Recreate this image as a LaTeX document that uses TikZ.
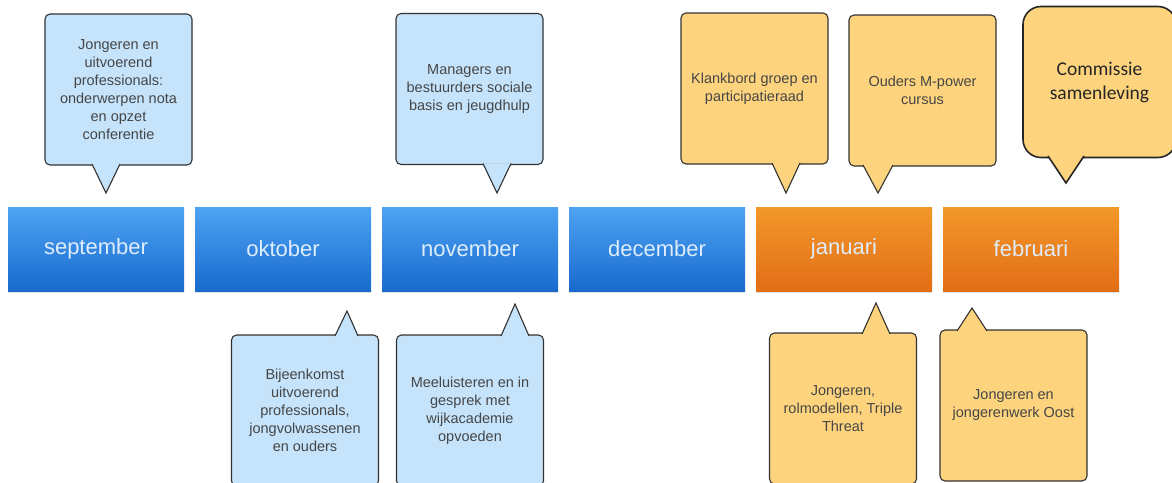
\documentclass[tikz,border=0pt]{standalone}
\usepackage{fontspec}
\setmainfont{Liberation Sans}
\newfontfamily\calibri{Carlito}
\usetikzlibrary{positioning,calc,shadows}
\definecolor{bluetop}{RGB}{78,163,243}
\definecolor{bluebot}{RGB}{24,106,205}
\definecolor{ortop}{RGB}{242,152,42}
\definecolor{orbot}{RGB}{226,110,22}
\definecolor{bluefill}{RGB}{197,228,252}
\definecolor{orfill}{RGB}{253,212,125}
\definecolor{linecol}{RGB}{50,50,50}
\definecolor{textcol}{RGB}{70,70,70}
\definecolor{monthtext}{RGB}{222,237,252}
\begin{document}
\begin{tikzpicture}[x=1pt,y=-1pt,node distance=10.6pt,
      month/.style={rectangle,minimum width=176pt,minimum height=84pt,inner sep=0pt,text=monthtext,font=\fontsize{22}{26}\selectfont,drop shadow={opacity=0.25,shadow xshift=0pt,shadow yshift=-1.5pt}},
      bluemonth/.style={month,top color=bluetop,bottom color=bluebot},
      orangemonth/.style={month,top color=ortop,bottom color=orbot},
      bubble/.style={rectangle,rounded corners=5pt,draw=linecol,line width=1.1pt,minimum width=147pt,minimum height=151pt,inner sep=0pt,outer sep=0pt,align=center,text=textcol,font=\fontsize{14.5}{18}\selectfont},
      bluebubble/.style={bubble,fill=bluefill},
      orangebubble/.style={bubble,fill=orfill},
      bigbubble/.style={bubble,fill=orfill,rounded corners=18pt,line width=1.6pt,draw=black!85,minimum width=153pt,text=black!85,font=\calibri\fontsize{19.5}{24}\selectfont},
      ptr/.style={draw=linecol,line width=1.1pt,line join=miter}
      ]
      \useasboundingbox (0,0) rectangle (1172,482);
      \node (sep) [bluemonth] at (96,249) {september};
      \node (okt) [bluemonth, right=of sep] {oktober};
      \node (nov) [bluemonth, right=of okt] {november};
      \node (dec) [bluemonth, right=of nov] {december};
      \node (jan) [orangemonth, right=of dec] {januari};
      \node (feb) [orangemonth, right=of jan] {februari};
      \node (c1) [bluebubble] at (118.5,89.5) {Jongeren en\\uitvoerend\\professionals:\\onderwerpen nota\\en opzet\\conferentie};
      \node (c2) [bluebubble] at (469.5,89) {Managers en\\bestuurders sociale\\basis en jeugdhulp};
      \node (c3) [orangebubble] at (754.5,88.5) {Klankbord groep en\\participatieraad};
      \node (c4) [orangebubble] at (922.5,90.5) {Ouders M-power\\cursus};
      \node (c5) [bigbubble] at (1099.5,82) {Commissie\\samenleving};
      \node (b1) [bluebubble] at (305,410.5) {Bijeenkomst\\uitvoerend\\professionals,\\jongvolwassenen\\en ouders};
      \node (b2) [bluebubble] at (470,410.5) {Meeluisteren en in\\gesprek met\\wijkacademie\\opvoeden};
      \node (b3) [orangebubble] at (843,408.5) {Jongeren,\\rolmodellen, Triple\\Threat};
      \node (b4) [orangebubble] at (1013.5,405.5) {Jongeren en\\jongerenwerk Oost};
      \coordinate (t1) at (106,193);
      \coordinate (t2) at (497,193);
      \coordinate (t3) at (786,193);
      \coordinate (t4) at (878,193);
      \coordinate (t5) at (1066,183);
      \coordinate (u1) at (347,311);
      \coordinate (u2) at (515,304);
      \coordinate (u3) at (876,303);
      \coordinate (u4) at (972,308);
      \filldraw[ptr,fill=bluefill] ($(c1.south -| t1)+(-14,-1)$) -- (t1) -- ($(c1.south -| t1)+(14,-1)$);
      \filldraw[ptr,fill=bluefill] ($(c2.south -| t2)+(-14,-1)$) -- (t2) -- ($(c2.south -| t2)+(14,-1)$);
      \filldraw[ptr,fill=orfill] ($(c3.south -| t3)+(-14,-1)$) -- (t3) -- ($(c3.south -| t3)+(14,-1)$);
      \filldraw[ptr,fill=orfill] ($(c4.south -| t4)+(-15,-1)$) -- (t4) -- ($(c4.south -| t4)+(15,-1)$);
      \filldraw[ptr,fill=orfill,draw=black!85,line width=1.6pt] ($(c5.south -| t5)+(-18,-1.5)$) -- (t5) -- ($(c5.south -| t5)+(18,-1.5)$);
      \filldraw[ptr,fill=bluefill] ($(b1.north -| u1)+(-12,1)$) -- (u1) -- ($(b1.north -| u1)+(11,1)$);
      \filldraw[ptr,fill=bluefill] ($(b2.north -| u2)+(-14,1)$) -- (u2) -- ($(b2.north -| u2)+(14,1)$);
      \filldraw[ptr,fill=orfill] ($(b3.north -| u3)+(-14,1)$) -- (u3) -- ($(b3.north -| u3)+(14,1)$);
      \filldraw[ptr,fill=orfill] ($(b4.north -| u4)+(-15,1)$) -- (u4) -- ($(b4.north -| u4)+(15,1)$);
\end{tikzpicture}
\end{document}
